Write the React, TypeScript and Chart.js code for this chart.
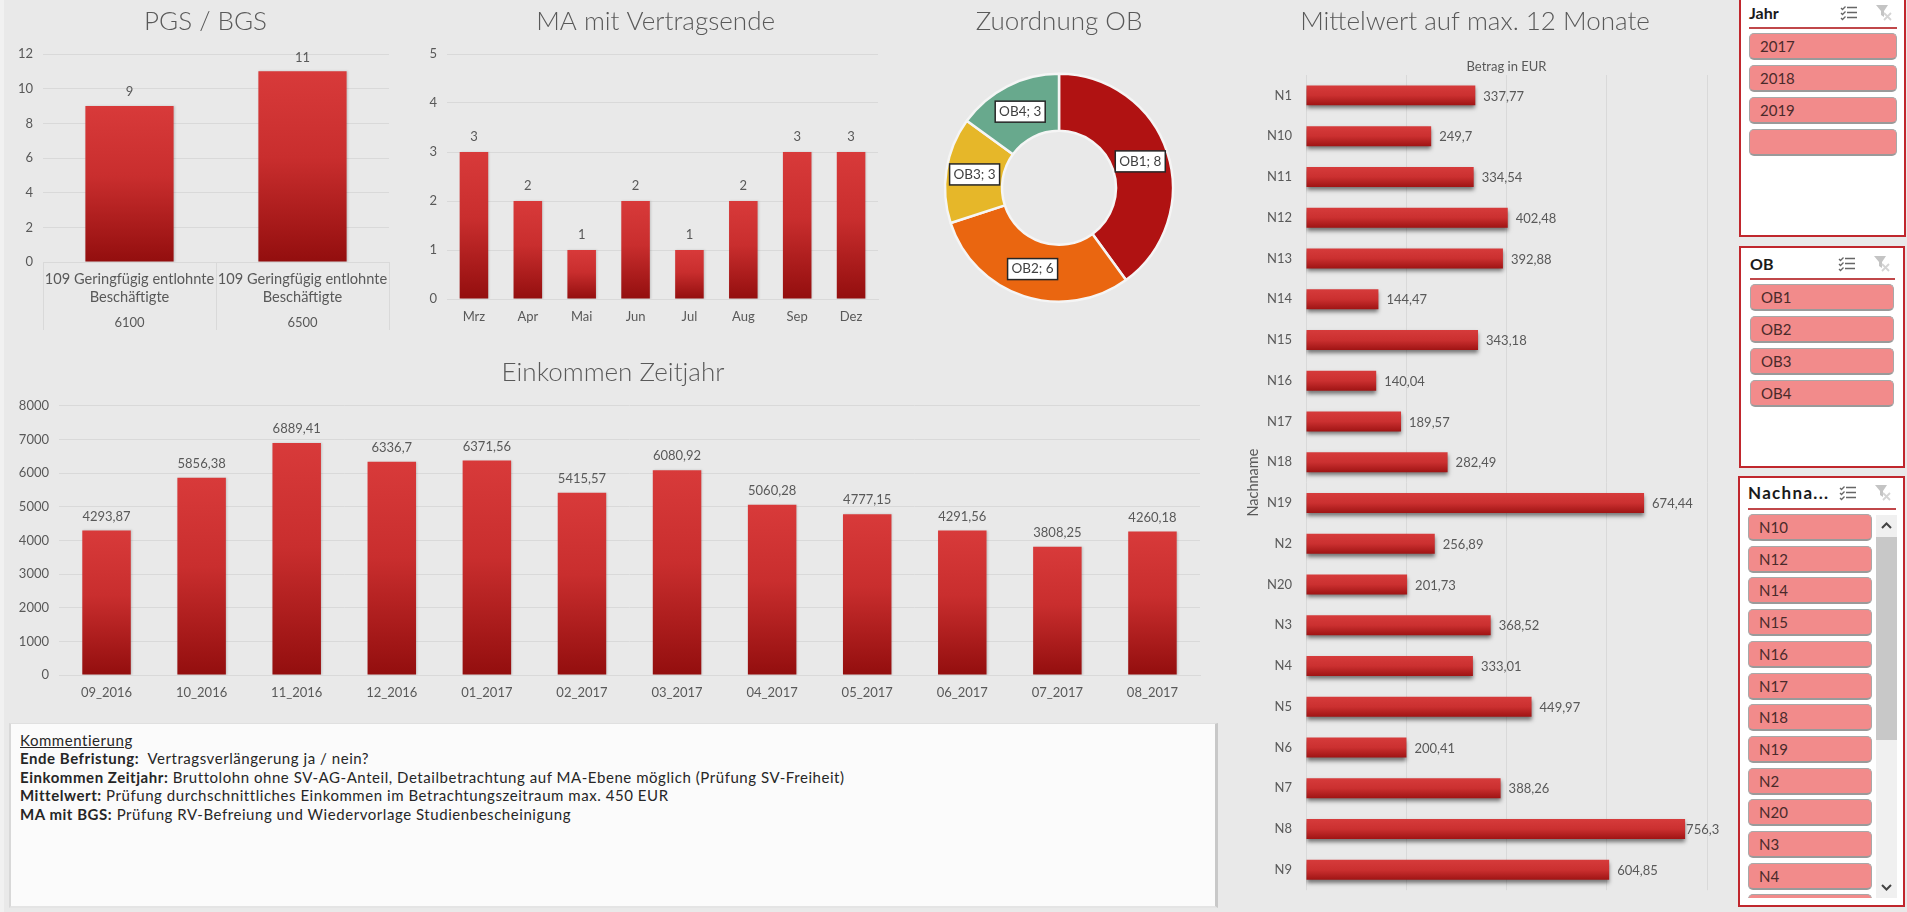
import React, { useEffect, useRef } from "react";
import { Chart, registerables } from "chart.js";

Chart.register(...registerables);

const FONT = "Lato, 'Noto Sans', sans-serif";
const TICK = "#595959";
const GRID = "#d9d9d9";

const pgsLabels = [["109 Geringfügig entlohnte", "Beschäftigte"], ["109 Geringfügig entlohnte", "Beschäftigte"]];
const pgsGroups = ["6100", "6500"];
const pgsValues = [9, 11];

const maMonths = ["Mrz", "Apr", "Mai", "Jun", "Jul", "Aug", "Sep", "Dez"];
const maValues = [3, 2, 1, 2, 1, 2, 3, 3];

const obLabels = ["OB1", "OB2", "OB3", "OB4"];
const obValues = [8, 6, 3, 3];
const obColors = ["#b01212", "#ea6610", "#e6b729", "#68a98d"];

const einkommenMonths = ["09_2016", "10_2016", "11_2016", "12_2016", "01_2017", "02_2017", "03_2017", "04_2017", "05_2017", "06_2017", "07_2017", "08_2017"];
const einkommenValues = [4293.87, 5856.38, 6889.41, 6336.7, 6371.56, 5415.57, 6080.92, 5060.28, 4777.15, 4291.56, 3808.25, 4260.18];

const namen = ["N1", "N10", "N11", "N12", "N13", "N14", "N15", "N16", "N17", "N18", "N19", "N2", "N20", "N3", "N4", "N5", "N6", "N7", "N8", "N9"];
const mittelwerte = [337.77, 249.7, 334.54, 402.48, 392.88, 144.47, 343.18, 140.04, 189.57, 282.49, 674.44, 256.89, 201.73, 368.52, 333.01, 449.97, 200.41, 388.26, 756.3, 604.85];

const slicerJahr = ["2017", "2018", "2019", ""];
const slicerOB = ["OB1", "OB2", "OB3", "OB4"];
const slicerNamen = ["N10", "N12", "N14", "N15", "N16", "N17", "N18", "N19", "N2", "N20", "N3", "N4", "N5"];

const comments: [string, string][] = [
  ["Ende Befristung:", "  Vertragsverlängerung ja / nein?"],
  ["Einkommen Zeitjahr:", " Bruttolohn ohne SV-AG-Anteil, Detailbetrachtung auf MA-Ebene möglich (Prüfung SV-Freiheit)"],
  ["Mittelwert:", " Prüfung durchschnittliches Einkommen im Betrachtungszeitraum max. 450 EUR"],
  ["MA mit BGS:", " Prüfung RV-Befreiung und Wiedervorlage Studienbescheinigung"],
];

const fmt = (v: number) => String(v).replace(".", ",");

const titleOpt = (text: string, bottom: number, top = 6.4) => ({
  display: true,
  text,
  color: "#595959",
  font: { family: FONT, size: 26, weight: 300, lineHeight: 1.2 },
  padding: { top, bottom },
});

const titleAt = (cx: number) => ({
  id: "titleAt",
  afterLayout(chart: any) {
    const b = chart.titleBlock;
    if (!b) return;
    const d = cx - (b.left + b.right) / 2;
    b.left += d;
    b.right += d;
  },
});

const vGradient = (c: any) => {
  const { chart, dataIndex, dataset } = c;
  if (!chart.chartArea || !chart.scales.y) return "#c92f2f";
  const y = chart.scales.y;
  const g = chart.ctx.createLinearGradient(0, y.getPixelForValue(dataset.data[dataIndex]), 0, y.getPixelForValue(0));
  g.addColorStop(0, "#d83a3a");
  g.addColorStop(0.45, "#c92e2e");
  g.addColorStop(1, "#930e0e");
  return g;
};

const hGradient = (c: any) => {
  const { chart, dataIndex } = c;
  if (!chart.chartArea || !chart.scales.y) return "#c92f2f";
  const y = chart.scales.y;
  const p = y.getPixelForValue(dataIndex);
  const g = chart.ctx.createLinearGradient(0, p - 10, 0, p + 10);
  g.addColorStop(0, "#d63b3b");
  g.addColorStop(0.5, "#cb3030");
  g.addColorStop(1, "#9f1414");
  return g;
};

const shadowPlugin = (color: string, blur: number, ox: number, oy: number) => ({
  id: "barShadow",
  beforeDatasetDraw(chart: any) {
    const ctx = chart.ctx;
    ctx.save();
    ctx.shadowColor = color;
    ctx.shadowBlur = blur;
    ctx.shadowOffsetX = ox;
    ctx.shadowOffsetY = oy;
  },
  afterDatasetDraw(chart: any) {
    chart.ctx.restore();
  },
});

const topLabels = (size: number, gap: number) => ({
  id: "topLabels",
  afterDatasetsDraw(chart: any) {
    const ctx = chart.ctx;
    const ds = chart.data.datasets[0];
    ctx.save();
    ctx.fillStyle = TICK;
    ctx.font = `${size}px ${FONT}`;
    ctx.textAlign = "center";
    ctx.textBaseline = "middle";
    chart.getDatasetMeta(0).data.forEach((el: any, i: number) => {
      ctx.fillText(fmt(ds.data[i]), el.x, el.y - gap);
    });
    ctx.restore();
  },
});

const rightLabels = {
  id: "rightLabels",
  afterDatasetsDraw(chart: any) {
    const ctx = chart.ctx;
    const ds = chart.data.datasets[0];
    ctx.save();
    ctx.fillStyle = TICK;
    ctx.font = `13px ${FONT}`;
    ctx.textAlign = "left";
    ctx.textBaseline = "middle";
    chart.getDatasetMeta(0).data.forEach((el: any, i: number) => {
      ctx.fillText(fmt(ds.data[i]), el.x + (ds.data[i] > 700 ? 1 : 8), el.y + 1);
    });
    ctx.restore();
  },
};

const arcLabels = {
  id: "arcLabels",
  afterDatasetsDraw(chart: any) {
    const ctx = chart.ctx;
    const ds = chart.data.datasets[0];
    ctx.save();
    ctx.font = `13.5px ${FONT}`;
    ctx.textAlign = "center";
    ctx.textBaseline = "middle";
    chart.getDatasetMeta(0).data.forEach((el: any, i: number) => {
      const p = el.tooltipPosition();
      const w = 50;
      const h = 21;
      ctx.fillStyle = "#ffffff";
      ctx.strokeStyle = "#262626";
      ctx.lineWidth = 1.5;
      ctx.fillRect(p.x - w / 2, p.y - h / 2, w, h);
      ctx.strokeRect(p.x - w / 2, p.y - h / 2, w, h);
      ctx.fillStyle = "#404040";
      ctx.fillText(`${chart.data.labels[i]}; ${ds.data[i]}`, p.x, p.y);
    });
    ctx.restore();
  },
};

const tickFont = { family: FONT, size: 13 };
const fixW = (w: number) => (s: any) => { s.width = w; };
const fixH = (h: number) => (s: any) => { s.height = h; };

const yScale = (width: number, max: number, step: number) => ({
  min: 0,
  max,
  afterFit: fixW(width),
  border: { display: false },
  grid: { color: GRID, drawTicks: false, lineWidth: 1 },
  ticks: { stepSize: step, color: TICK, font: tickFont, padding: 10, callback: (v: any) => String(v) },
});

const barBase = { backgroundColor: vGradient, barPercentage: 0.51, categoryPercentage: 1 };

const pgsConfig = () => ({
  type: "bar",
  data: { labels: pgsLabels, datasets: [{ data: pgsValues, ...barBase }] },
  plugins: [titleAt(205.5), shadowPlugin("rgba(0,0,0,0.15)", 2, 1, 0), topLabels(13, 14)],
  options: {
    animation: false, responsive: false, maintainAspectRatio: false,
    layout: { autoPadding: false, padding: { left: 0, right: 22, top: 0, bottom: 8 } },
    plugins: { legend: { display: false }, tooltip: { enabled: false }, title: titleOpt("PGS / BGS", 16.4) },
    scales: {
      y: yScale(43, 12, 2),
      x: {
        afterFit: fixH(43),
        border: { color: GRID },
        grid: { offset: true, drawOnChartArea: false, drawTicks: true, tickLength: 68, color: GRID },
        ticks: { color: TICK, font: { family: FONT, size: 14.6, lineHeight: 1.24 }, maxRotation: 0, autoSkip: false, padding: -60 },
      },
      x2: {
        type: "category", labels: pgsGroups, position: "bottom", weight: 1, offset: true,
        afterFit: fixH(27),
        border: { display: false },
        grid: { display: false, drawTicks: false },
        ticks: { color: TICK, font: tickFont, padding: 10, maxRotation: 0, autoSkip: false },
      },
    },
  },
});

const maConfig = () => ({
  type: "bar",
  data: { labels: maMonths, datasets: [{ data: maValues, ...barBase, barPercentage: 0.53 }] },
  plugins: [titleAt(244.6), shadowPlugin("rgba(0,0,0,0.15)", 2, 1, 0), topLabels(13, 15)],
  options: {
    animation: false, responsive: false, maintainAspectRatio: false,
    layout: { autoPadding: false, padding: { left: 0, right: 22, top: 0, bottom: 11 } },
    plugins: { legend: { display: false }, tooltip: { enabled: false }, title: titleOpt("MA mit Vertragsende", 16.4) },
    scales: {
      y: yScale(36, 5, 1),
      x: {
        afterFit: fixH(30),
        border: { color: GRID },
        grid: { display: false, drawTicks: false },
        ticks: { color: TICK, font: tickFont, padding: 10, maxRotation: 0, autoSkip: false },
      },
    },
  },
});

const einkommenConfig = () => ({
  type: "bar",
  data: { labels: einkommenMonths, datasets: [{ data: einkommenValues, ...barBase }] },
  plugins: [titleAt(613), shadowPlugin("rgba(0,0,0,0.15)", 2, 1, 0), topLabels(13, 14)],
  options: {
    animation: false, responsive: false, maintainAspectRatio: false,
    layout: { autoPadding: false, padding: { left: 0, right: 26, top: 0, bottom: 17 } },
    plugins: { legend: { display: false }, tooltip: { enabled: false }, title: titleOpt("Einkommen Zeitjahr", 17.1, 7.4) },
    scales: {
      y: yScale(59, 8000, 1000),
      x: {
        afterFit: fixH(30),
        border: { color: GRID },
        grid: { display: false, drawTicks: false },
        ticks: { color: TICK, font: tickFont, padding: 10, maxRotation: 0, autoSkip: false },
      },
    },
  },
});

const obConfig = () => ({
  type: "doughnut",
  data: {
    labels: obLabels,
    datasets: [{ data: obValues, backgroundColor: obColors, borderColor: "#f5f5f5", borderWidth: 2.5 }],
  },
  plugins: [arcLabels],
  options: {
    animation: false, responsive: false, maintainAspectRatio: false, cutout: "50%",
    layout: { autoPadding: false, padding: { left: 0, right: 0, top: 0, bottom: 5 } },
    plugins: { legend: { display: false }, tooltip: { enabled: false }, title: titleOpt("Zuordnung OB", 35) },
  },
});

const mittelConfig = () => ({
  type: "bar",
  data: {
    labels: namen,
    datasets: [{ data: mittelwerte, backgroundColor: hGradient, barPercentage: 0.49, categoryPercentage: 1 }],
  },
  plugins: [titleAt(245), shadowPlugin("rgba(0,0,0,0.5)", 4, 0, 3), rightLabels],
  options: {
    indexAxis: "y",
    animation: false, responsive: false, maintainAspectRatio: false,
    layout: { autoPadding: false, padding: { left: 15, right: 13, top: 0, bottom: 21 } },
    plugins: { legend: { display: false }, tooltip: { enabled: false }, title: titleOpt("Mittelwert auf max. 12 Monate", 12.4) },
    scales: {
      x: {
        position: "top", min: 0, max: 800,
        afterFit: fixH(25),
        border: { display: false },
        grid: { color: GRID, drawTicks: false },
        ticks: { display: false, stepSize: 200 },
        title: { display: true, text: "Betrag in EUR", color: TICK, font: { family: FONT, size: 13, lineHeight: 1.2 }, padding: { top: 9, bottom: 0 } },
      },
      y: {
        afterFit: fixW(61),
        border: { display: false },
        grid: { display: false, drawTicks: false },
        ticks: { color: TICK, font: tickFont, padding: 14, autoSkip: false },
        title: { display: true, text: "Nachname", color: TICK, font: { family: FONT, size: 14.5, lineHeight: 1.2 }, padding: { top: 0, bottom: 0 } },
      },
    },
  },
});

function ChartBox({ left, top, width, height, config }: { left: number; top: number; width: number; height: number; config: () => any }) {
  const ref = useRef<HTMLCanvasElement>(null);
  useEffect(() => {
    const chart = new Chart(ref.current as any, config());
    return () => chart.destroy();
  }, []);
  return (
    <canvas
      ref={ref}
      width={width}
      height={height}
      style={{ position: "absolute", left, top, width, height }}
    />
  );
}

function Icons() {
  return (
    <>
      <svg width="18" height="18" viewBox="0 0 18 18" style={{ position: "absolute", right: 39, top: 1 }}>
        <g stroke="#666" strokeWidth="1.3" fill="none">
          <path d="M1 4l1.500 1.500L5.500 2.500M1 9l1.500 1.500L5.500 7.500M1 14l1.500 1.500L5.500 12.500" />
          <path d="M7 3.500h10M7 8.500h10M7 13.500h10" />
        </g>
      </svg>
      <svg width="18" height="18" viewBox="0 0 18 18" style={{ position: "absolute", right: 4, top: 1 }}>
        <path d="M1 1h12L9 7v6L6 11V7z" fill="#c4c4c4" />
        <path d="M9 9l7 7M16 9l-7 7" stroke="#d4d4d4" strokeWidth="1.8" />
      </svg>
    </>
  );
}

type SlicerProps = {
  title: string; left: number; top: number; width: number; height: number;
  headLeft: number; headWidth: number; headY: number; lineY: number; headSize?: number; headSpacing?: number;
  itemLeft: number; itemWidth: number; itemTop: number; step: number; items: string[]; clipBottom?: number;
};

function Slicer(p: SlicerProps) {
  return (
    <div style={{ position: "absolute", left: p.left, top: p.top, width: p.width, height: p.height, background: "#fff", border: "2px solid #c0272d", boxSizing: "border-box", overflow: "hidden" }}>
      <div style={{ position: "absolute", left: p.headLeft - p.left - 2, top: p.headY - p.top - 2 - 10, width: p.headWidth, height: 20, font: `bold ${p.headSize ?? 16}px ${FONT}`, letterSpacing: p.headSpacing ?? 0, lineHeight: "20px", color: "#1a1a1a" }}>
        {p.title}
        <Icons />
      </div>
      <div style={{ position: "absolute", left: p.headLeft - p.left - 2, top: p.lineY - p.top - 2, width: p.headWidth, height: 2, background: "#c0474a" }} />
      <div style={{ position: "absolute", left: 0, top: 0, width: "100%", height: (p.clipBottom ?? p.top + p.height) - p.top - 2, overflow: "hidden" }}>
        {p.items.map((t, i) => (
          <div key={i} style={{ position: "absolute", left: p.itemLeft - p.left - 2, top: p.itemTop - p.top - 2 + i * p.step, width: p.itemWidth, height: 27, boxSizing: "border-box", background: "#f28b8b", border: "1px solid #a8a8a8", borderBottom: "2px solid #9a9a9a", borderRadius: 5, paddingLeft: 10, font: `15px ${FONT}`, lineHeight: "25px", color: "#4a2a2a" }}>
            {t}
          </div>
        ))}
      </div>
    </div>
  );
}

export default function App() {
  return (
    <div style={{ position: "fixed", left: 0, top: 0, width: 1907, height: 912, background: "#e9e9e9", overflow: "hidden" }}>
      <div style={{ position: "absolute", left: 0, top: 0, width: 4, height: 912, background: "#f1f1f1" }} />
      <ChartBox left={0} top={0} width={411} height={340} config={pgsConfig} />
      <ChartBox left={411} top={0} width={489} height={340} config={maConfig} />
      <ChartBox left={900} top={0} width={318} height={308} config={obConfig} />
      <ChartBox left={0} top={350} width={1226} height={372} config={einkommenConfig} />
      <ChartBox left={1230} top={0} width={490} height={912} config={mittelConfig} />

      <div style={{ position: "absolute", left: 9, top: 723, width: 1209, height: 185, background: "#fbfbfb", borderLeft: "2px solid #d8d8d8", borderRight: "3px solid #c8c8c8", borderTop: "1px solid #e0e0e0", borderBottom: "2px solid #e4e4e4", boxSizing: "border-box", padding: "7px 0 0 9px", font: `15px ${FONT}`, letterSpacing: 0.55, lineHeight: "18.4px", color: "#262626" }}>
        <div style={{ textDecoration: "underline" }}>Kommentierung</div>
        {comments.map(([b, t]) => (
          <div key={b} style={{ whiteSpace: "pre" }}><b>{b}</b>{t}</div>
        ))}
      </div>

      <Slicer title="Jahr" left={1739} top={-2} width={167} height={239} headLeft={1749} headWidth={148} headY={13} lineY={27} itemLeft={1749} itemWidth={148} itemTop={33} step={32} items={slicerJahr} />
      <Slicer title="OB" left={1739} top={246} width={166} height={222} headLeft={1750} headWidth={145} headY={264} lineY={278} itemLeft={1750} itemWidth={144} itemTop={284} step={32} items={slicerOB} />
      <Slicer title="Nachna..." left={1738} top={476} width={167} height={431} headLeft={1748} headWidth={148} headY={493} lineY={508} headSize={17} headSpacing={1.3} itemLeft={1748} itemWidth={124} itemTop={514} step={31.7} items={slicerNamen} clipBottom={898} />

      <div style={{ position: "absolute", left: 1876, top: 515, width: 21, height: 383, background: "#f0f0f0" }}>
        <div style={{ position: "absolute", left: 0, top: 22, width: 21, height: 203, background: "#c8c8c8" }} />
        <svg width="21" height="14" style={{ position: "absolute", left: 0, top: 4 }}><path d="M6 9l4.500-4.500L15 9" stroke="#444" strokeWidth="2" fill="none" /></svg>
        <svg width="21" height="14" style={{ position: "absolute", left: 0, bottom: 4 }}><path d="M6 5l4.500 4.500L15 5" stroke="#444" strokeWidth="2" fill="none" /></svg>
      </div>
    </div>
  );
}
